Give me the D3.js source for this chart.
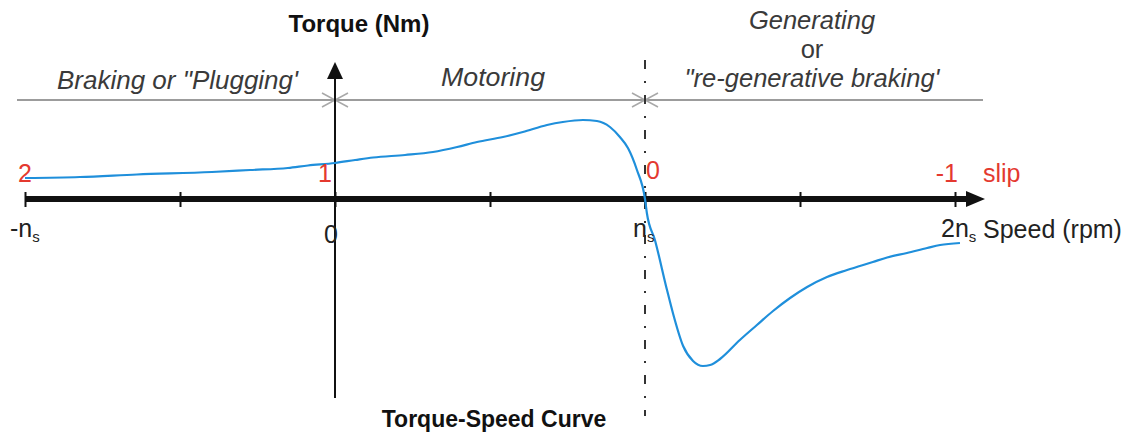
<!DOCTYPE html>
<html>
<head>
<meta charset="utf-8">
<script src="https://cdn.jsdelivr.net/npm/d3@7"></script>
<style>
  html, body { margin: 0; padding: 0; background: #fff; }
  svg { display: block; }
  text { font-family: "Liberation Sans", Arial, sans-serif; }
</style>
</head>
<body>
<svg id="chart" width="1127" height="433"></svg>
<script>
// Induction machine torque-speed characteristic.
// Speed is expressed in multiples of synchronous speed n_s, torque in relative units.
const speed = [-1.0, -0.823, -0.639, -0.397, -0.274, -0.152, -0.087, 0,
  0.065, 0.123, 0.226, 0.316, 0.394, 0.458, 0.542, 0.606, 0.684, 0.735, 0.8, 0.845,
  0.887, 0.919, 0.945, 0.974, 1.0, 1.006, 1.032, 1.071, 1.09, 1.123, 1.155, 1.187,
  1.21, 1.242, 1.306, 1.361, 1.413, 1.468, 1.523, 1.587, 1.652, 1.735, 1.781,
  1.845, 1.910, 1.952, 2.016];
const torque = [0.21, 0.22, 0.245, 0.27, 0.29, 0.31, 0.335, 0.36,
  0.39, 0.415, 0.44, 0.47, 0.52, 0.57, 0.62, 0.67, 0.74, 0.77, 0.79, 0.78,
  0.72, 0.62, 0.51, 0.29, 0.0, -0.14, -0.41, -0.91, -1.14, -1.47, -1.62, -1.67,
  -1.66, -1.60, -1.41, -1.26, -1.12, -0.99, -0.88, -0.78, -0.71, -0.63, -0.585,
  -0.54, -0.49, -0.46, -0.44];

const speedTicks = [-1, -0.5, 0, 0.5, 1, 1.5, 2];
const speedLabelValues = [-1, 0, 1, 2];
const speedLabelMain = ["-n", "0", "n", "2n"];
const speedLabelSub = ["s", "", "s", "s"];
const slipValues = [2, 1, 0, -1];
const regionNames = ["Braking or \"Plugging'", "Motoring"];
const generatingLines = ["Generating", "or", "\"re-generative braking'"];

const svg = d3.select("#chart");
const W = 1127, H = 433;
svg.append("rect").attr("width", W).attr("height", H).attr("fill", "#fff");

const x = d3.scaleLinear().domain([-1, 2]).range([25, 955]);
const y = d3.scaleLinear().domain([-2, 1.4]).range([399, 59]);
const y0 = y(0);

const red = "#e4392f";
const textGrey = "#3a3a3a";

// Region divider with open arrowheads at the boundaries
const bandY = 100;
svg.append("line")
  .attr("x1", 17).attr("x2", 983).attr("y1", bandY).attr("y2", bandY)
  .attr("stroke", "#9c9c9c").attr("stroke-width", 2);
[0, 1].forEach(v => {
  const cx = x(v);
  const p = d3.path();
  p.moveTo(cx - 13, bandY - 7); p.lineTo(cx, bandY); p.lineTo(cx - 13, bandY + 7);
  p.moveTo(cx + 13, bandY - 7); p.lineTo(cx, bandY); p.lineTo(cx + 13, bandY + 7);
  svg.append("path").attr("d", p.toString())
    .attr("fill", "none").attr("stroke", "#a8a8a8").attr("stroke-width", 1.5);
});

// Synchronous speed marker (dash-dot)
svg.append("line")
  .attr("x1", x(1)).attr("x2", x(1)).attr("y1", 60).attr("y2", 416)
  .attr("stroke", "#333").attr("stroke-width", 2)
  .attr("stroke-dasharray", "9,12,2,12");

// Torque axis with arrow
svg.append("line")
  .attr("x1", x(0)).attr("x2", x(0)).attr("y1", 398).attr("y2", 72)
  .attr("stroke", "#111").attr("stroke-width", 2);
svg.append("path")
  .attr("d", d3.line()([[x(0), 62], [x(0) - 8, 79], [x(0) + 8, 79]]) + "Z")
  .attr("fill", "#111");

// Speed axis
const axis = d3.axisBottom(x).tickValues(speedTicks).tickFormat("").tickSizeOuter(0);
const gx = svg.append("g").attr("transform", `translate(0,${y0})`).call(axis);
gx.select(".domain").attr("stroke", "#111").attr("stroke-width", 6)
  .attr("d", `M${x(-1)},0H970`);
gx.selectAll(".tick line").attr("stroke", "#111").attr("stroke-width", 2)
  .attr("y1", -7).attr("y2", 8);
svg.append("path")
  .attr("d", d3.line()([[985, y0], [966, y0 - 8], [966, y0 + 8]]) + "Z")
  .attr("fill", "#111");

// Torque-speed curve
const line = d3.line().x((d, i) => x(speed[i])).y((d, i) => y(torque[i])).curve(d3.curveMonotoneX);
svg.append("path").datum(speed).attr("d", line)
  .attr("fill", "none").attr("stroke", "#1f8fdb").attr("stroke-width", 2.2)
  .attr("stroke-linejoin", "round");

// Slip labels
const slipG = svg.append("g").attr("fill", red).attr("font-size", 25);
slipValues.forEach(s => {
  const n = 1 - s;
  const t = slipG.append("text").text(String(s)).attr("y", s === 0 ? 179 : 182);
  if (s === 2) t.attr("x", x(n)).attr("text-anchor", "middle");
  else if (s === 1) t.attr("x", x(n) - 3).attr("text-anchor", "end");
  else if (s === 0) t.attr("x", x(n) + 1).attr("text-anchor", "start");
  else t.attr("x", x(n) + 3).attr("text-anchor", "end");
});
slipG.append("text").text("slip").attr("x", 983).attr("y", 182);

// Speed labels
speedLabelValues.forEach((v, i) => {
  const t = svg.append("text").attr("font-size", 25).attr("fill", "#222")
    .attr("y", v === 0 ? 243 : 237);
  if (v === -1) t.attr("x", x(v) - 15);
  else if (v === 0) t.attr("x", x(v) - 11);
  else if (v === 1) t.attr("x", x(v) - 12);
  else t.attr("x", x(v) - 14);
  t.append("tspan").text(speedLabelMain[i]);
  if (speedLabelSub[i]) {
    t.append("tspan").text(speedLabelSub[i]).attr("font-size", 15).attr("dy", 5);
  }
});
svg.append("text").text("Speed (rpm)").attr("x", 983).attr("y", 238)
  .attr("font-size", 25).attr("fill", "#222");

// Operating region names
const italic = svg.append("g").attr("font-style", "italic").attr("font-size", 25.5)
  .attr("fill", textGrey);
italic.append("text").text(regionNames[0]).attr("x", 57).attr("y", 89)
  .attr("textLength", 241).attr("lengthAdjust", "spacingAndGlyphs");
italic.append("text").text(regionNames[1]).attr("x", 441).attr("y", 86)
  .attr("textLength", 104).attr("lengthAdjust", "spacingAndGlyphs");
const genY = [29, 58, 87];
generatingLines.forEach((s, i) => {
  italic.append("text").text(s).attr("x", 812).attr("y", genY[i])
    .attr("text-anchor", "middle").attr("font-style", i === 1 ? "normal" : "italic");
});

// Titles
svg.append("text").text("Torque (Nm)").attr("x", 359).attr("y", 32)
  .attr("text-anchor", "middle").attr("font-weight", "bold").attr("font-size", 24)
  .attr("fill", "#111");
svg.append("text").text("Torque-Speed Curve").attr("x", 494).attr("y", 427)
  .attr("text-anchor", "middle").attr("font-weight", "bold").attr("font-size", 23)
  .attr("fill", "#111");
</script>
</body>
</html>
